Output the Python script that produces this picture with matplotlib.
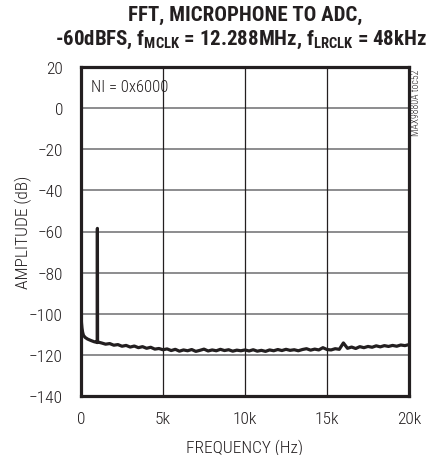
import matplotlib
matplotlib.use("Agg")
import matplotlib.pyplot as plt

FONT = 'Roboto Condensed'
plt.rcParams['font.family'] = [FONT, 'DejaVu Sans']
plt.rcParams['mathtext.fontset'] = 'custom'
plt.rcParams['mathtext.rm'] = FONT + ':black'
plt.rcParams['mathtext.bf'] = FONT + ':black'

# ---- data ----
freq_start = [0, 30, 60, 100, 150, 250, 400, 600, 800, 950, 990, 1000, 1010, 1050]
amp_start = [-100.0, -104.5, -107.0, -109.0, -110.5, -111.5, -112.3, -113.0, -113.6, -113.9,
             -114.0, -58.5, -114.0, -113.8]
freq_floor = [1250 + 250 * i for i in range(76)]
amp_floor = [
    -114.2, -114.8, -114.5, -115.3, -115.0, -115.8, -115.4, -116.2, -115.7, -116.5,
    -116.0, -116.8, -116.3, -117.2, -116.9, -117.5,
    -117.1, -117.9, -117.3, -118.2, -117.6, -118.0, -117.4, -118.3, -117.8, -117.2,
    -118.1, -117.6, -118.0, -117.3, -117.9, -117.5, -118.2, -117.7, -118.0, -117.6,
    -118.1, -117.5, -118.2, -117.8, -118.3, -117.6, -118.0, -117.4, -117.9, -117.3,
    -117.8, -117.5, -118.0, -117.4, -117.0, -117.7, -117.2, -117.6, -116.5, -117.4,
    -117.6, -117.0, -117.3, -114.2, -116.8, -116.2, -116.9, -116.0, -116.5, -115.9,
    -116.3, -115.6, -116.1, -115.5, -115.9, -115.4, -115.8, -115.2, -115.5, -115.0,
]
freq = freq_start + freq_floor
amp = amp_start + amp_floor

x_ticks = [0, 5000, 10000, 15000, 20000]
x_tick_labels = ['0', '5k', '10k', '15k', '20k']
y_ticks = [20, 0, -20, -40, -60, -80, -100, -120, -140]

INK = '#231f20'
W, H = 443, 456
fig = plt.figure(figsize=(W / 100, H / 100), dpi=100)
L, R, T, B = 81, 409, 68, 397
ax = fig.add_axes([L / W, 1 - B / H, (R - L) / W, (B - T) / H])

ax.plot(freq, amp, color=INK, lw=2.3, solid_joinstyle='round', zorder=3)

ax.set_xlim(0, 20000)
ax.set_ylim(-140, 20)
ax.set_xticks(x_ticks)
ax.set_xticklabels(x_tick_labels)
ax.set_yticks(y_ticks)
ax.tick_params(length=0, labelsize=12.5, colors=INK)
ax.tick_params(axis='y', pad=13)
ax.tick_params(axis='x', pad=11)
for lab in ax.get_xticklabels() + ax.get_yticklabels():
    lab.set_fontweight('light')

for y in y_ticks[1:-1]:
    ax.axhline(y, color='#6d6e70', lw=1.1, zorder=1)
for x in x_ticks[1:-1]:
    ax.axvline(x, color=INK, lw=0.9, zorder=1)

for s in ax.spines.values():
    s.set_linewidth(2.3)
    s.set_color(INK)

ax.set_xlabel('FREQUENCY (Hz)', fontsize=12.5, color=INK, labelpad=9, fontweight='light')
ax.set_ylabel('AMPLITUDE (dB)', fontsize=12.5, color=INK, labelpad=-2, fontweight='light')

ax.text(0.032, 0.942, 'NI = 0x6000', transform=ax.transAxes, fontsize=12,
        color=INK, va='center', ha='left', fontweight='light')

fig.text(416 / W, 1 - 70 / H, 'MAX9880A toc52', rotation=90, fontsize=7,
         color=INK, ha='center', va='top', fontweight='light')

fig.text(245 / W, 1 - 15 / H, 'FFT, MICROPHONE TO ADC,', fontsize=15,
         fontweight='black', ha='center', va='center', color=INK)
fig.text(241 / W, 1 - 40 / H,
         r'-60dBFS, f$_{\mathbf{MCLK}}$ = 12.288MHz, f$_{\mathbf{LRCLK}}$ = 48kHz',
         fontsize=15, fontweight='black', ha='center', va='center', color=INK)

fig.savefig('out.png', dpi=100)
